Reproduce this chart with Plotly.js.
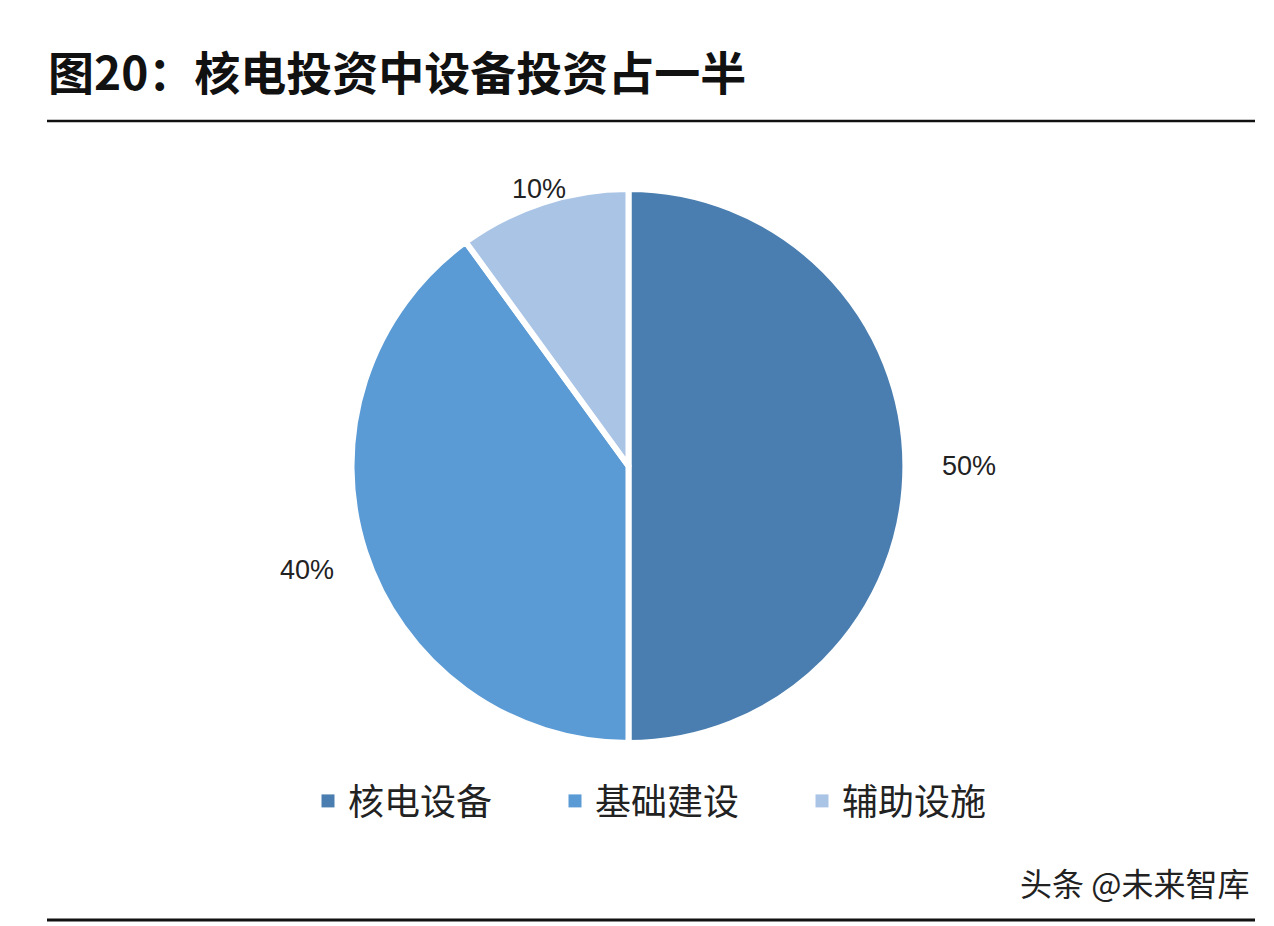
<!DOCTYPE html>
<html>
<head>
<meta charset="utf-8">
<script src="https://cdn.plot.ly/plotly-3.0.1.min.js"></script>
<style>html,body{margin:0;padding:0;background:#fff;}#chart{width:1274px;height:926px;}</style>
</head>
<body>
<div id="chart"></div>
<script>
const categories = ["核电设备", "基础建设", "辅助设施"];
const shares = [50, 40, 10];
const sliceColors = ["#4a7eb0", "#5b9bd5", "#aac4e6"];
const titleText = "图20：核电投资中设备投资占一半";
const sourceText = "头条 @未来智库";

const W = 1274, H = 926;
const cx = 628.5, cy = 466, R = 277;
const domX = [(cx - R) / W, (cx + R) / W];
const domY = [(H - cy - R) / H, (H - cy + R) / H];
const labelRadius = [1.23, 1.22, 1.05];

// label positions derived from the data (clockwise from 12 o'clock)
const total = shares.reduce((a, b) => a + b, 0);
let cum = 0;
const annotations = shares.map((v, i) => {
  const mid = (cum + v / 2) / total * 2 * Math.PI;
  cum += v;
  const r = R * labelRadius[i];
  const px = cx + r * Math.sin(mid);
  const py = cy - r * Math.cos(mid);
  return {
    xref: "paper", yref: "paper",
    x: px / W, y: 1 - py / H,
    xanchor: "center", yanchor: "middle",
    text: Math.round(v / total * 100) + "%",
    showarrow: false,
    font: {family: "Liberation Sans, Arial, sans-serif", size: 27, color: "#222"}
  };
});
annotations.push({
  xref: "paper", yref: "paper",
  x: 1251 / W, y: 1 - 882 / H, xanchor: "right", yanchor: "middle",
  text: sourceText, showarrow: false,
  font: {family: "Noto Sans CJK SC, sans-serif", size: 32, color: "#222"}
});

const trace = {
  type: "pie",
  labels: categories,
  values: shares,
  sort: false,
  direction: "clockwise",
  rotation: 0,
  textinfo: "none",
  hoverinfo: "label+percent",
  marker: {colors: sliceColors, line: {color: "#ffffff", width: 6}},
  domain: {x: domX, y: domY}
};

const layout = {
  width: W, height: H,
  margin: {l: 0, r: 0, t: 0, b: 0},
  paper_bgcolor: "#ffffff",
  plot_bgcolor: "#ffffff",
  title: {
    text: "<b>" + titleText + "</b>",
    x: 48 / W, xanchor: "left", xref: "paper",
    y: 1 - 74 / H, yanchor: "middle", yref: "container",
    font: {family: "Noto Sans CJK SC, sans-serif", size: 46, color: "#111"}
  },
  showlegend: true,
  legend: {
    orientation: "h",
    x: 308 / W, xanchor: "left",
    y: 1 - 801 / H, yanchor: "middle",
    entrywidth: 202,
    font: {family: "Noto Sans CJK SC, sans-serif", size: 36, color: "#222"},
    bgcolor: "rgba(0,0,0,0)"
  },
  shapes: [
    {type: "line", xref: "paper", yref: "paper", x0: 47 / W, x1: 1255 / W, y0: 1 - 121 / H, y1: 1 - 121 / H, line: {color: "#111", width: 2.5}},
    {type: "line", xref: "paper", yref: "paper", x0: 47 / W, x1: 1255 / W, y0: 1 - 920 / H, y1: 1 - 920 / H, line: {color: "#111", width: 3}}
  ],
  annotations: annotations
};

Plotly.newPlot("chart", [trace], layout, {displayModeBar: false, staticPlot: true}).then(() => {
  // legend swatches: full-size squares without the white slice separator stroke
  document.querySelectorAll("path.legendpie").forEach(p => {
    p.setAttribute("d", "M6.5,6.5H-6.5V-6.5H6.5Z");
    p.style.strokeWidth = "0";
  });
});
</script>
</body>
</html>
